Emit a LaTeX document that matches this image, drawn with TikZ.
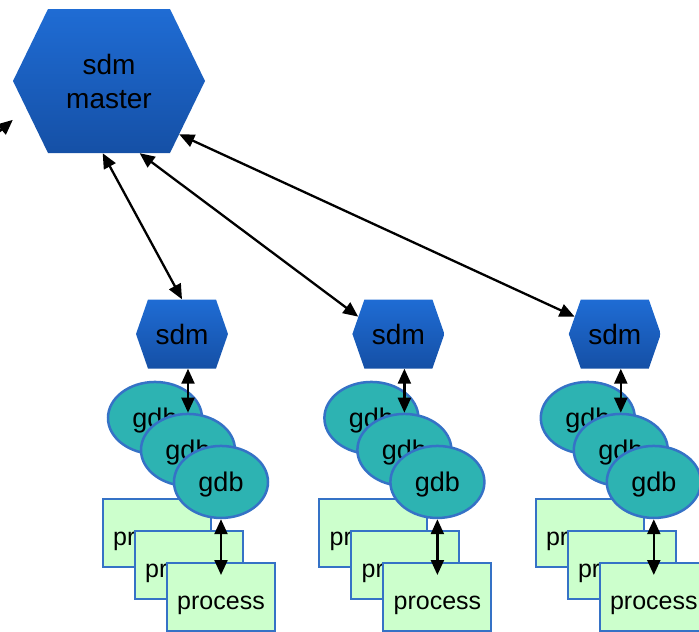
\documentclass[tikz,border=0pt]{standalone}
\usepackage{fontspec}
\setmainfont{Liberation Sans}
\usetikzlibrary{arrows.meta,calc,positioning,shapes.geometric}

\definecolor{hexTop}{HTML}{1F6CD4}
\definecolor{hexBot}{HTML}{1550A6}
\definecolor{gdbFill}{HTML}{2DB3B2}
\definecolor{boxLine}{HTML}{3572C6}
\definecolor{procFill}{HTML}{CCFFCC}

\begin{document}
\begin{tikzpicture}[
		x=1pt, y=1pt,
		>={Triangle[length=15pt,width=13pt]},
		hexa/.style={
			rectangle, inner sep=0pt, align=center,
			font=\fontsize{28}{34}\selectfont,
			path picture={\shade[top color=hexTop, bottom color=hexBot]
				(path picture bounding box.west)
				-- ([xshift=#1]path picture bounding box.north west)
				-- ([xshift=-#1]path picture bounding box.north east)
				-- (path picture bounding box.east)
				-- ([xshift=-#1]path picture bounding box.south east)
				-- ([xshift=#1]path picture bounding box.south west) -- cycle;}
		},
		sdmbox/.style={hexa=12pt, minimum width=92pt, minimum height=69pt},
		gdb/.style={
			ellipse, draw=boxLine, line width=2.5pt, fill=gdbFill,
			minimum width=94pt, minimum height=72pt, inner sep=0pt,
			text height=25pt, text depth=5pt,
			font=\fontsize{27}{30}\selectfont
		},
		proc/.style={
			rectangle, draw=boxLine, line width=2pt, fill=procFill,
			minimum width=108pt, minimum height=68pt, inner sep=0pt,
			text height=29pt, text depth=5pt,
			font=\fontsize{25}{28}\selectfont
		},
		link/.style={<->, line width=2.3pt}
		]
		\useasboundingbox (0,0) rectangle (699,-632);
		
		% ---- Master oben links, drei sdm darunter
		\node[hexa=35pt, minimum width=192pt, minimum height=144pt] (master) at (109,-81) {sdm\\master};
		\node[sdmbox]                     (sdm1) at (182,-334) {sdm};
		\node[sdmbox, right=124pt of sdm1] (sdm2) {sdm};
		\node[sdmbox, right=124pt of sdm2] (sdm3) {sdm};
		
		% ---- Prozesse zuerst (liegen unter den gdb-Ellipsen)
		\node[proc] (p11) at ([shift={(-25,-199)}]sdm1) {process};
		\node[proc] (p12) at ([shift={(32,-32)}]p11) {process};
		\node[proc] (p13) at ([shift={(32,-32)}]p12) {process};
		\node[proc] (p21) at ([shift={(-25,-199)}]sdm2) {process};
		\node[proc] (p22) at ([shift={(32,-32)}]p21) {process};
		\node[proc] (p23) at ([shift={(32,-32)}]p22) {process};
		\node[proc] (p31) at ([shift={(-25,-199)}]sdm3) {process};
		\node[proc] (p32) at ([shift={(32,-32)}]p31) {process};
		\node[proc] (p33) at ([shift={(32,-32)}]p32) {process};
		
		% ---- gdb-Stapel, je drei schräg versetzt
		\node[gdb, below=12pt of sdm1, xshift=-27pt] (g11) {gdb};
		\node[gdb] (g12) at ([shift={(33,-32)}]g11) {gdb};
		\node[gdb] (g13) at ([shift={(33,-32)}]g12) {gdb};
		\node[gdb, below=12pt of sdm2, xshift=-27pt] (g21) {gdb};
		\node[gdb] (g22) at ([shift={(33,-32)}]g21) {gdb};
		\node[gdb] (g23) at ([shift={(33,-32)}]g22) {gdb};
		\node[gdb, below=12pt of sdm3, xshift=-27pt] (g31) {gdb};
		\node[gdb] (g32) at ([shift={(33,-32)}]g31) {gdb};
		\node[gdb] (g33) at ([shift={(33,-32)}]g32) {gdb};
		
		% ---- Pfeile Master <-> sdm (Endpunkte auf den Sechseckkanten)
		\coordinate (offL) at (-6,-136);
		\draw[->, line width=2.3pt] (offL) -- (master.202);
		\draw[link] (master.265) -- (sdm1.north);
		\draw[link] (master.293) -- ($(sdm2.west)!.5!([xshift=12pt]sdm2.north west)$);
		\draw[link] ($(master.east)!.74!([xshift=-35pt]master.south east)$)
			-- ($(sdm3.west)!.5!([xshift=12pt]sdm3.north west)$);
		
		% ---- senkrechte Pfeile sdm <-> gdb <-> process
		\draw[link] (g12.north |- sdm1.south) -- (g12.north);
		\draw[link] (g22.north |- sdm2.south) -- (g22.north);
		\draw[link] (g32.north |- sdm3.south) -- (g32.north);
		\draw[link] (g13.south) -- ([yshift=-13pt]p13.north);
		\draw[link] (g23.south) -- ([yshift=-13pt]p23.north);
		\draw[link] (g33.south) -- ([yshift=-13pt]p33.north);
	\end{tikzpicture}
\end{document}
